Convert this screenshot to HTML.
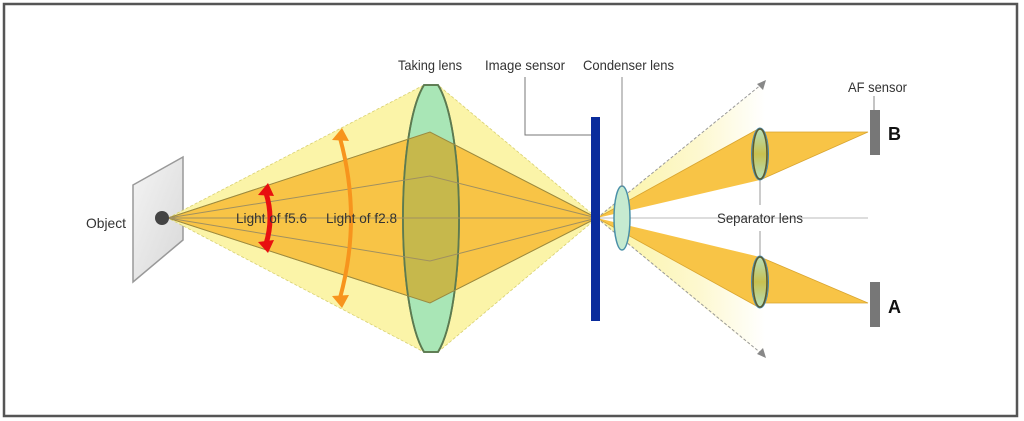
<!DOCTYPE html>
<html><head><meta charset="utf-8"><style>
html,body{margin:0;padding:0;background:#fff;width:1024px;height:421px;overflow:hidden}
svg{display:block}
text{font-family:"Liberation Sans Narrow","Liberation Sans",sans-serif;font-size:14px;fill:#333}
</style></head><body>
<svg width="1024" height="421" viewBox="0 0 1024 421">
<defs>
<linearGradient id="fade" x1="0" x2="1" y1="0" y2="0">
<stop offset="0" stop-color="#fbf3a0"/><stop offset="0.6" stop-color="#fdf8cf"/><stop offset="1" stop-color="#ffffff"/>
</linearGradient>
<linearGradient id="plate" x1="0" x2="1" y1="0" y2="1">
<stop offset="0" stop-color="#f4f4f4"/><stop offset="1" stop-color="#d8d8d8"/>
</linearGradient>
<linearGradient id="slens" x1="0" x2="0" y1="0" y2="1">
<stop offset="0" stop-color="#b5e0c0"/><stop offset="0.5" stop-color="#c8c050"/><stop offset="1" stop-color="#b5e0c0"/>
</linearGradient>
<clipPath id="oc"><polygon points="168,218 430,132 597,218 430,303"/></clipPath>
</defs>
<rect x="4" y="4" width="1013" height="412" fill="#fff" stroke="#555" stroke-width="2.5"/>

<polygon points="133,185 183,157 183,240 133,282" fill="url(#plate)" stroke="#999" stroke-width="1.5"/>

<polygon points="168,218 424,85 438,85 597,218 438,352 424,352" fill="#fbf4a8" stroke="#d8d070" stroke-width="0.8" stroke-dasharray="3,2"/>
<polygon points="168,218 430,132 597,218 430,303" fill="#f8c446" stroke="#d9a530" stroke-width="0.8"/>
<path d="M424,85 L438,85 C466,130 466,306 438,352 L424,352 C396,306 396,130 424,85 Z" fill="#a9e6b6" stroke="#5d8a62" stroke-width="1.8"/>
<path d="M424,85 L438,85 C466,130 466,306 438,352 L424,352 C396,306 396,130 424,85 Z" fill="#c6b84c" clip-path="url(#oc)"/>
<path d="M424,85 L438,85 C466,130 466,306 438,352 L424,352 C396,306 396,130 424,85 Z" fill="none" stroke="#5d7a50" stroke-width="1.8"/>
<polygon points="168,218 430,132 597,218 430,303" fill="none" stroke="#9a8a40" stroke-width="1"/>
<g stroke="#a09060" stroke-width="1" fill="none">
<polyline points="168,218 430,176 597,218"/>
<polyline points="168,218 430,261 597,218"/>
<line x1="168" y1="218" x2="597" y2="218"/>
</g>
<circle cx="162" cy="218" r="7" fill="#444"/>

<path d="M266,193 Q274,218 266,244" stroke="#e81010" stroke-width="5" fill="none"/>
<polygon points="258,195 268,183 274,196" fill="#e81010"/>
<polygon points="258,242 268,253 274,240" fill="#e81010"/>
<path d="M340,138 Q362,218 340,298" stroke="#f7941d" stroke-width="4" fill="none"/>
<polygon points="332,140 342,128 349,141" fill="#f7941d"/>
<polygon points="332,296 342,308 349,295" fill="#f7941d"/>
<text x="236" y="223" textLength="71" lengthAdjust="spacingAndGlyphs">Light of f5.6</text>
<text x="326" y="223" textLength="71" lengthAdjust="spacingAndGlyphs">Light of f2.8</text>
<text x="86" y="228" textLength="40" lengthAdjust="spacingAndGlyphs">Object</text>

<polygon points="597,218 765,82 765,128 760,130" fill="url(#fade)"/>
<polygon points="597,218 765,358 765,308 760,306" fill="url(#fade)"/>
<polygon points="597,218 760,128 760,180" fill="#f8c446"/>
<polygon points="597,218 760,257 760,308" fill="#f8c446"/>
<polygon points="760,132 868,132 760,180" fill="#f8c446" stroke="#d9a530" stroke-width="0.8"/>
<polygon points="760,303 868,303 760,257" fill="#f8c446" stroke="#d9a530" stroke-width="0.8"/>
<line x1="597" y1="218" x2="760" y2="128" stroke="#d9a530" stroke-width="0.8"/>
<line x1="597" y1="218" x2="760" y2="308" stroke="#d9a530" stroke-width="0.8"/>
<g stroke="#999" stroke-width="1" stroke-dasharray="3,2">
<line x1="597" y1="218" x2="762" y2="84"/>
<line x1="597" y1="218" x2="762" y2="354"/>
</g>
<polygon points="766,80 757,84 763,90" fill="#888"/>
<polygon points="766,358 757,354 763,348" fill="#888"/>

<line x1="600" y1="218" x2="868" y2="218" stroke="#bbb" stroke-width="1"/>
<line x1="760" y1="180" x2="760" y2="205" stroke="#999"/>
<line x1="760" y1="231" x2="760" y2="257" stroke="#999"/>
<text x="717" y="223" textLength="86" lengthAdjust="spacingAndGlyphs">Separator lens</text>

<ellipse cx="760" cy="154" rx="8.5" ry="26" fill="url(#slens)" stroke="#4a8ab0" stroke-width="1"/>
<ellipse cx="760" cy="154" rx="7" ry="25" fill="none" stroke="#5a5a30" stroke-width="1.6"/>
<ellipse cx="760" cy="282" rx="8.5" ry="26" fill="url(#slens)" stroke="#4a8ab0" stroke-width="1"/>
<ellipse cx="760" cy="282" rx="7" ry="25" fill="none" stroke="#5a5a30" stroke-width="1.6"/>

<rect x="591" y="117" width="9" height="204" fill="#0a2c9c"/>
<polyline points="525,77 525,135 591,135" stroke="#777" fill="none" stroke-width="1"/>
<ellipse cx="622" cy="218" rx="8" ry="32" fill="#c6ead0" stroke="#4a90a8" stroke-width="1.5"/>
<line x1="622" y1="77" x2="622" y2="187" stroke="#888"/>

<rect x="870" y="110" width="10" height="45" fill="#777"/>
<rect x="870" y="282" width="10" height="45" fill="#777"/>
<line x1="874" y1="96" x2="874" y2="110" stroke="#888"/>
<text x="888" y="140" style="font-weight:bold;font-size:18px;fill:#111;font-family:'Liberation Sans',sans-serif">B</text>
<text x="888" y="313" style="font-weight:bold;font-size:18px;fill:#111;font-family:'Liberation Sans',sans-serif">A</text>
<text x="848" y="92" textLength="59" lengthAdjust="spacingAndGlyphs">AF sensor</text>

<text x="398" y="70" textLength="64" lengthAdjust="spacingAndGlyphs">Taking lens</text>
<text x="485" y="70" textLength="80" lengthAdjust="spacingAndGlyphs">Image sensor</text>
<text x="583" y="70" textLength="91" lengthAdjust="spacingAndGlyphs">Condenser lens</text>
</svg>
</body></html>
